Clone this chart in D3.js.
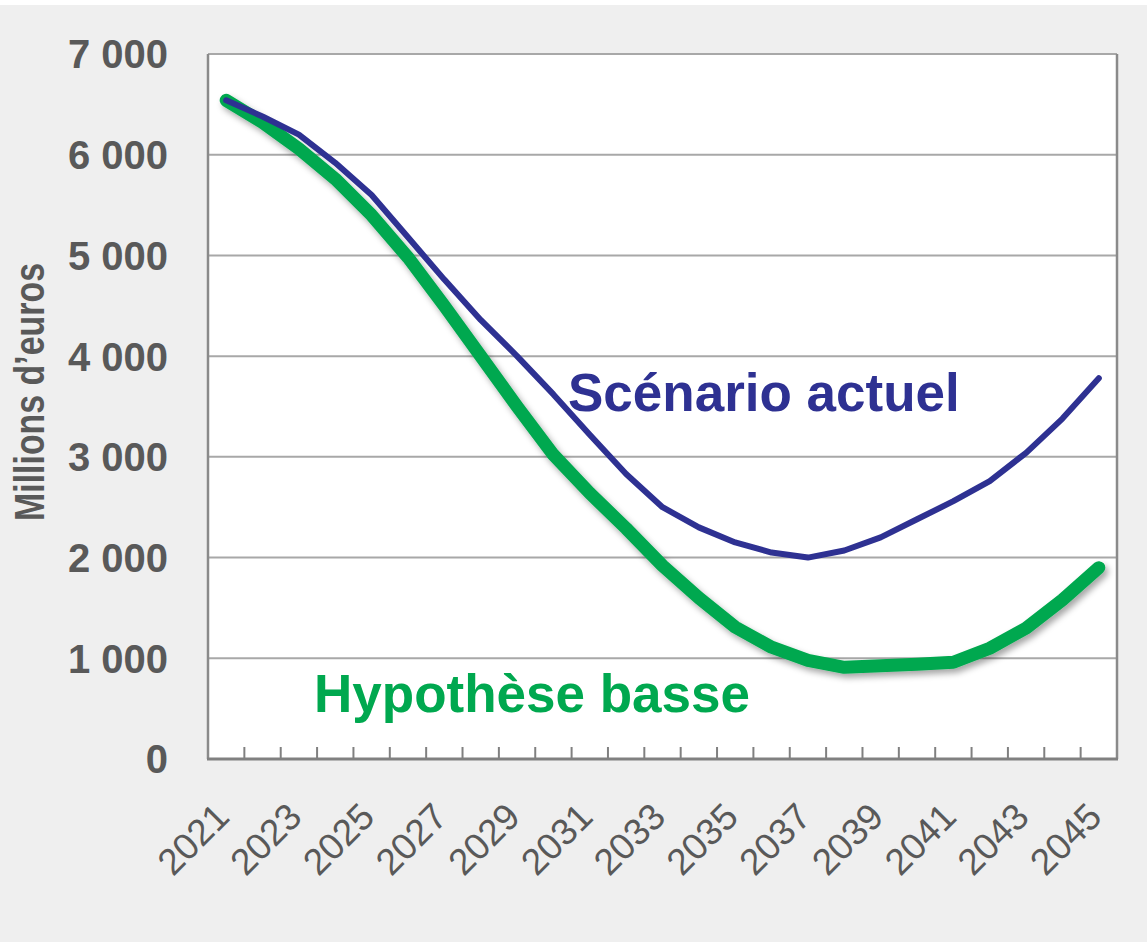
<!DOCTYPE html>
<html>
<head>
<meta charset="utf-8">
<script src="https://cdn.jsdelivr.net/npm/d3@7"></script>
<style>
  html, body { margin: 0; padding: 0; background: #ffffff; }
  svg { display: block; font-family: "Liberation Sans", Arial, sans-serif; }
</style>
</head>
<body>
<div id="chart"></div>
<script>
var years = d3.range(2021, 2046);
var actuel = [6540, 6380, 6200, 5920, 5600, 5180, 4760, 4360, 4000, 3620,
              3220, 2830, 2500, 2300, 2150, 2050, 2000, 2070, 2200, 2380,
              2560, 2760, 3040, 3380, 3780];
var basse = [6540, 6320, 6060, 5760, 5400, 4980, 4500, 4000, 3500, 3020,
             2640, 2290, 1920, 1600, 1310, 1110, 980, 910, 925, 940,
             960, 1100, 1300, 1580, 1900];
var yTicks = [0, 1000, 2000, 3000, 4000, 5000, 6000, 7000];
var yearLabels = years.filter(function(d) { return d % 2 == 1; });
var labActuel = "Scénario actuel",
    labBasse = "Hypothèse basse",
    yTitle = "Millions d\u2019euros";

var w = 1147,
    h = 942,
    m = [54, 30, 183, 208]; // top right bottom left

var fr = d3.formatLocale({decimal: ",", thousands: "\u00a0", grouping: [3], currency: ["", " €"]});
var fmt = fr.format(",d");

var x = d3.scaleBand().domain(years).range([m[3], w - m[1]]).padding(0);
var y = d3.scaleLinear().domain([0, 7000]).range([h - m[2], m[0]]);

var svg = d3.select("#chart").append("svg")
    .attr("width", w)
    .attr("height", h);

var defs = svg.append("defs");
var f = defs.append("filter").attr("id", "shadow")
    .attr("x", "-10%").attr("y", "-10%").attr("width", "130%").attr("height", "130%");
f.append("feDropShadow")
    .attr("dx", 3).attr("dy", 4).attr("stdDeviation", 3)
    .attr("flood-color", "#000").attr("flood-opacity", 0.35);

svg.append("rect")
    .attr("x", 0).attr("y", 5).attr("width", w).attr("height", h - 5)
    .attr("fill", "#efefef");

// plot area
svg.append("rect")
    .attr("x", x.range()[0]).attr("y", y(7000))
    .attr("width", x.range()[1] - x.range()[0])
    .attr("height", y(0) - y(7000))
    .attr("fill", "#fff");

svg.append("g").selectAll("line")
    .data(yTicks.slice(1))
  .enter().append("line")
    .attr("x1", x.range()[0]).attr("x2", x.range()[1])
    .attr("y1", function(d) { return y(d); })
    .attr("y2", function(d) { return y(d); })
    .attr("stroke", "#a8a8a8")
    .attr("stroke-width", 2);

// side borders
svg.append("line")
    .attr("x1", x.range()[0]).attr("x2", x.range()[0])
    .attr("y1", y(7000)).attr("y2", y(0))
    .attr("stroke", "#8a8a8a").attr("stroke-width", 2.5);
svg.append("line")
    .attr("x1", x.range()[1]).attr("x2", x.range()[1])
    .attr("y1", y(7000)).attr("y2", y(0))
    .attr("stroke", "#8a8a8a").attr("stroke-width", 2.5);

// x tick marks between categories
svg.append("g").selectAll("line")
    .data(years.slice(1))
  .enter().append("line")
    .attr("x1", function(d) { return x(d); })
    .attr("x2", function(d) { return x(d); })
    .attr("y1", y(0)).attr("y2", y(0) - 12)
    .attr("stroke", "#808080").attr("stroke-width", 2);

svg.append("line")
    .attr("x1", x.range()[0] - 1).attr("x2", x.range()[1] + 1)
    .attr("y1", y(0)).attr("y2", y(0))
    .attr("stroke", "#808080").attr("stroke-width", 3);

// y labels
svg.append("g").selectAll("text")
    .data(yTicks)
  .enter().append("text")
    .attr("x", 168)
    .attr("y", function(d) { return y(d); })
    .attr("dy", "0.36em")
    .attr("text-anchor", "end")
    .attr("font-size", 40)
    .attr("font-weight", "bold")
    .attr("fill", "#595959")
    .text(function(d) { return fmt(d); });

// x labels
svg.append("g").selectAll("text")
    .data(yearLabels)
  .enter().append("text")
    .attr("text-anchor", "end")
    .attr("transform", function(d) {
      return "translate(" + (x(d) + x.bandwidth() / 2 + 5) + "," + (y(0) + 60) + ") rotate(-45)";
    })
    .attr("font-size", 37)
    .attr("fill", "#595959")
    .text(function(d) { return d; });

svg.append("text")
    .attr("transform", "translate(44," + 392 + ") rotate(-90)")
    .attr("text-anchor", "middle")
    .attr("font-size", 42)
    .attr("font-weight", "bold")
    .attr("fill", "#595959")
    .attr("textLength", 258)
    .attr("lengthAdjust", "spacingAndGlyphs")
    .text(yTitle);

var line = d3.line()
    .x(function(d, i) { return x(years[i]) + x.bandwidth() / 2; })
    .y(function(d) { return y(d); })
    .curve(d3.curveLinear);

svg.append("path")
    .datum(basse)
    .attr("d", line)
    .attr("fill", "none")
    .attr("stroke", "#00a84f")
    .attr("stroke-width", 13)
    .attr("stroke-linecap", "round")
    .attr("stroke-linejoin", "round")
    .attr("filter", "url(#shadow)");

svg.append("path")
    .datum(actuel)
    .attr("d", line)
    .attr("fill", "none")
    .attr("stroke", "#2e3192")
    .attr("stroke-width", 6)
    .attr("stroke-linecap", "round")
    .attr("stroke-linejoin", "round");

svg.append("text")
    .attr("x", 568).attr("y", 411)
    .attr("font-size", 53)
    .attr("font-weight", "bold")
    .attr("fill", "#2e3192")
    .text(labActuel);

svg.append("text")
    .attr("x", 314).attr("y", 712)
    .attr("font-size", 53)
    .attr("font-weight", "bold")
    .attr("fill", "#00a84f")
    .text(labBasse);
</script>
</body>
</html>
